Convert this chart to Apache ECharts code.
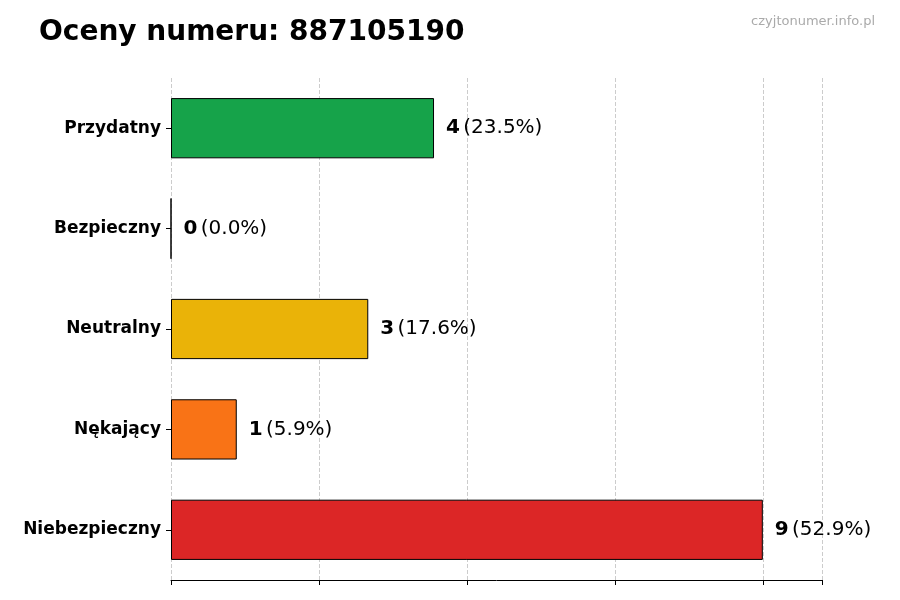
<!DOCTYPE html>
<html><head><meta charset="utf-8">
<script src="https://cdn.jsdelivr.net/npm/echarts@6/dist/echarts.min.js"></script>
<style>html,body{margin:0;padding:0;background:#fff}#c{width:900px;height:600px}</style>
</head><body><div id="c"></div>
<script>
const categories = ['Przydatny','Bezpieczny','Neutralny','Nękający','Niebezpieczny'];
const values = [4, 0, 3, 1, 9];
const percents = ['23.5%','0.0%','17.6%','5.9%','52.9%'];
const colors = ['#16a34a','#16a34a','#eab308','#f97316','#dc2626'];
const chart = echarts.init(document.getElementById('c'));
chart.setOption({
  animation:false,
  title:[{text:'Oceny numeru: 887105190',left:34,top:14,textStyle:{fontSize:28,fontWeight:'bold',color:'#000',fontFamily:'DejaVu Sans'}},
         {text:'czyjtonumer.info.pl',right:20,top:10,textStyle:{fontSize:13,fontWeight:'normal',color:'#aaa',fontFamily:'DejaVu Sans'}}],
  grid:{left:171,right:78,top:78,bottom:20},
  xAxis:{type:'value',min:0,max:9.9,interval:2.25,
    axisLabel:{show:false},
    axisLine:{show:true,lineStyle:{color:'#000'}},
    axisTick:{show:true,length:5,lineStyle:{color:'#000'}},
    splitLine:{show:true,lineStyle:{color:'#ccc',type:'dashed'}}},
  yAxis:{type:'category',inverse:true,data:categories,
    axisLine:{show:false},
    axisTick:{show:true,alignWithLabel:true,length:5,lineStyle:{color:'#000'}},
    axisLabel:{fontSize:17,fontWeight:'bold',color:'#000',margin:10,fontFamily:'DejaVu Sans'}},
  series:[{type:'bar',barWidth:'60%',
    data:values.map((v,i)=>({value:v,itemStyle:{color:colors[i],borderColor:'#000',borderWidth:1}})),
    label:{show:true,position:'right',distance:12,
      formatter:p=>'{b|'+values[p.dataIndex]+'} {n|('+percents[p.dataIndex]+')}',
      rich:{b:{fontSize:20,fontWeight:'bold',color:'#000',fontFamily:'DejaVu Sans'},
            n:{fontSize:20,color:'#000',fontFamily:'DejaVu Sans'}}}}]
});
</script></body></html>
